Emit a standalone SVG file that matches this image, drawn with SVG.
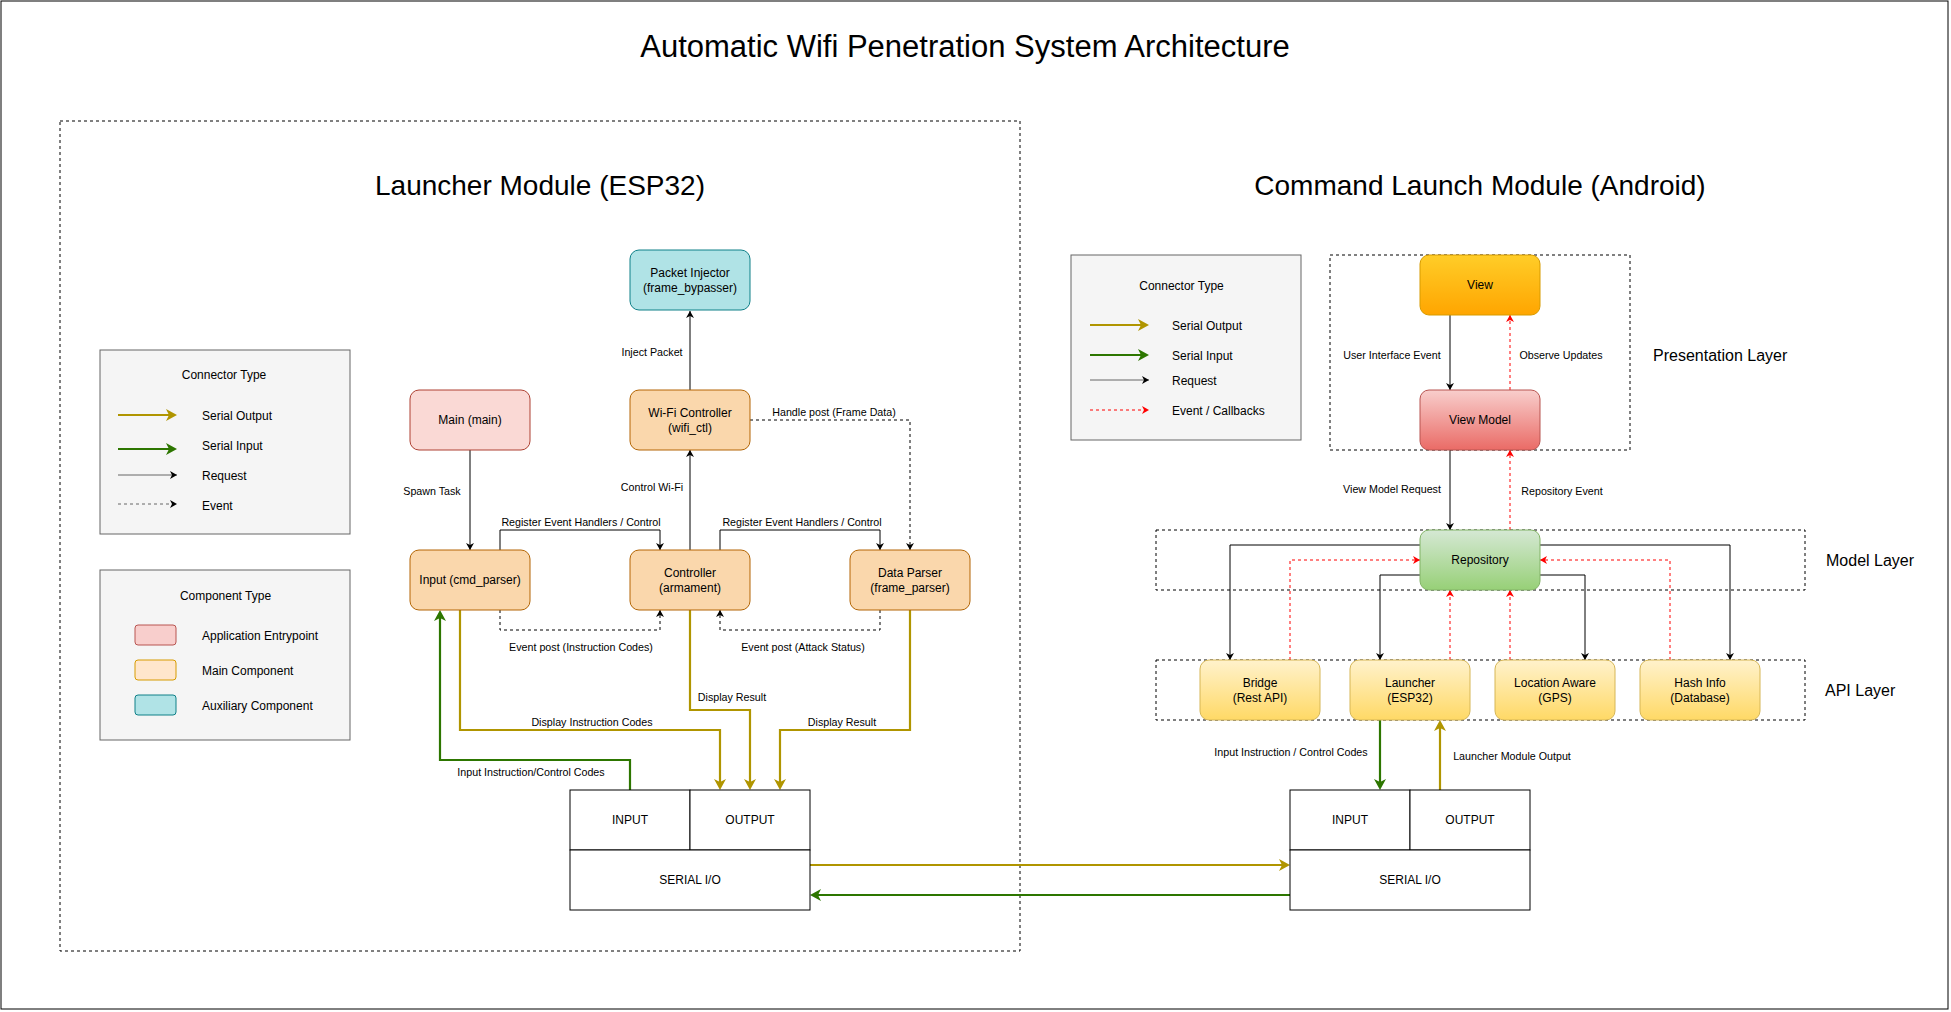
<svg xmlns="http://www.w3.org/2000/svg" width="1951" height="1012" viewBox="0 0 1951 1012">
<style>
text{font-family:"Liberation Sans",Arial,sans-serif;fill:#000;dominant-baseline:central}
.t12{font-size:12px;text-anchor:middle}
.lg{font-size:12px;text-anchor:start}
.el{font-size:10.7px;text-anchor:middle}
.lay{font-size:16px;text-anchor:start}
.cont{fill:none;stroke:#000;stroke-width:1;stroke-dasharray:3 3}
.leg{fill:#f5f5f5;stroke:#666666;stroke-width:1}
.req{fill:none;stroke:#000;stroke-width:1;marker-end:url(#ab)}
.evt{fill:none;stroke:#000;stroke-width:1;stroke-dasharray:3 3;marker-end:url(#ab)}
.red{fill:none;stroke:#FF0000;stroke-width:1;stroke-dasharray:3 3;marker-end:url(#ar)}
.gold{fill:none;stroke:#B09500;stroke-width:2.2;marker-end:url(#ag)}
.grn{fill:none;stroke:#2D7600;stroke-width:2.2;marker-end:url(#an)}
.box{fill:#fff;stroke:#000;stroke-width:1}
.pink{fill:#fad9d5;stroke:#ae4132;stroke-width:1}
.orng{fill:#fad7ac;stroke:#b46504;stroke-width:1}
.teal{fill:#b0e3e6;stroke:#0e8088;stroke-width:1}
</style>
<defs>
<marker id="ab" markerUnits="userSpaceOnUse" markerWidth="20" markerHeight="20" viewBox="-10 -10 20 20" refX="0" refY="0" orient="auto" overflow="visible"><path d="M0,0 L-7,-4 L-5,0 L-7,4 z" fill="#000"/></marker>
<marker id="ar" markerUnits="userSpaceOnUse" markerWidth="20" markerHeight="20" viewBox="-10 -10 20 20" refX="0" refY="0" orient="auto" overflow="visible"><path d="M0,0 L-7,-4 L-5,0 L-7,4 z" fill="#FF0000"/></marker>
<marker id="ag" markerUnits="userSpaceOnUse" markerWidth="20" markerHeight="20" viewBox="-10 -10 20 20" refX="0" refY="0" orient="auto" overflow="visible"><path d="M6,0 L-5,-6 L-2,0 L-5,6 z" fill="#B09500"/></marker>
<marker id="an" markerUnits="userSpaceOnUse" markerWidth="20" markerHeight="20" viewBox="-10 -10 20 20" refX="0" refY="0" orient="auto" overflow="visible"><path d="M6,0 L-5,-6 L-2,0 L-5,6 z" fill="#2D7600"/></marker>
<linearGradient id="gView" x1="0" y1="0" x2="0" y2="1"><stop offset="0" stop-color="#ffcd28"/><stop offset="1" stop-color="#ffa500"/></linearGradient>
<linearGradient id="gVM" x1="0" y1="0" x2="0" y2="1"><stop offset="0" stop-color="#f8cecc"/><stop offset="1" stop-color="#ea6b66"/></linearGradient>
<linearGradient id="gRepo" x1="0" y1="0" x2="0" y2="1"><stop offset="0" stop-color="#d5e8d4"/><stop offset="1" stop-color="#97d077"/></linearGradient>
<linearGradient id="gApi" x1="0" y1="0" x2="0" y2="1"><stop offset="0" stop-color="#fff2cc"/><stop offset="1" stop-color="#ffd966"/></linearGradient>
</defs>

<rect x="0" y="0" width="1951" height="1012" fill="#fff"/>
<rect x="1" y="1" width="1947" height="1008" fill="none" stroke="#000" stroke-width="1"/>
<text x="965" y="46" style="font-size:31px;text-anchor:middle">Automatic Wifi Penetration System Architecture</text>

<g id="launcher-module">
<rect class="cont" x="60" y="121" width="960" height="830"/>
<text x="540" y="185" style="font-size:28px;text-anchor:middle">Launcher Module (ESP32)</text>
</g>
<g id="command-module">
<text x="1480" y="185" style="font-size:28px;text-anchor:middle">Command Launch Module (Android)</text>
</g>
<g id="presentation-layer">
<rect class="cont" x="1330" y="255" width="300" height="195"/>
<text class="lay" x="1653" y="355">Presentation Layer</text>
</g>
<g id="model-layer">
<rect class="cont" x="1156" y="530" width="649" height="60"/>
<text class="lay" x="1826" y="560">Model Layer</text>
</g>
<g id="api-layer">
<rect class="cont" x="1156" y="660" width="649" height="60"/>
<text class="lay" x="1825" y="690">API Layer</text>
</g>

<g id="legend-connector-left">
<rect class="leg" x="100" y="350" width="250" height="184"/>
<text class="t12" x="224" y="375">Connector Type</text>
<path class="gold" d="M118,415 L171,415"/>
<text class="lg" x="202" y="415.5">Serial Output</text>
<path class="grn" d="M118,449 L171,449"/>
<text class="lg" x="202" y="445.5">Serial Input</text>
<path d="M118,475 L177,475" fill="none" stroke="#666" stroke-width="1" marker-end="url(#ab)"/>
<text class="lg" x="202" y="475.5">Request</text>
<path d="M118,504 L177,504" fill="none" stroke="#666" stroke-width="1" stroke-dasharray="3 3" marker-end="url(#ab)"/>
<text class="lg" x="202" y="505.5">Event</text>
</g>
<g id="legend-component">
<rect class="leg" x="100" y="570" width="250" height="170"/>
<text class="t12" x="225.5" y="595.5">Component Type</text>
<rect x="135" y="625" width="41" height="20" rx="3" fill="#f8cecc" stroke="#b85450"/>
<text class="lg" x="202" y="635.5">Application Entrypoint</text>
<rect x="135" y="660" width="41" height="20" rx="3" fill="#ffe6cc" stroke="#d79b00"/>
<text class="lg" x="202" y="670.5">Main Component</text>
<rect x="135" y="695" width="41" height="20" rx="3" fill="#b0e3e6" stroke="#0e8088"/>
<text class="lg" x="202" y="705.5">Auxiliary Component</text>
</g>
<g id="legend-connector-right">
<rect class="leg" x="1071" y="255" width="230" height="185"/>
<text class="t12" x="1181.5" y="286">Connector Type</text>
<path class="gold" d="M1090,325 L1143,325"/>
<text class="lg" x="1172" y="325.5">Serial Output</text>
<path class="grn" d="M1090,355 L1143,355"/>
<text class="lg" x="1172" y="355.5">Serial Input</text>
<path d="M1090,380 L1149,380" fill="none" stroke="#666" stroke-width="1" marker-end="url(#ab)"/>
<text class="lg" x="1172" y="380.5">Request</text>
<path class="red" d="M1090,410 L1149,410"/>
<text class="lg" x="1172" y="410.5">Event / Callbacks</text>
</g>

<g id="connectors">
<path class="req" d="M690,390 L690,311"/>
<path class="req" d="M690,550 L690,450"/>
<path class="req" d="M470,450 L470,550"/>
<path class="req" d="M500,550 L500,530 L660,530 L660,550"/>
<path class="req" d="M720,550 L720,530 L880,530 L880,550"/>
<path class="evt" d="M750,420 L910,420 L910,550"/>
<path class="evt" d="M500,610 L500,630 L660,630 L660,610"/>
<path class="evt" d="M880,610 L880,630 L720,630 L720,610"/>
<path class="gold" d="M460,610 L460,730 L720,730 L720,784"/>
<path class="gold" d="M690,610 L690,710 L750,710 L750,784"/>
<path class="gold" d="M910,610 L910,730 L780,730 L780,784"/>
<path class="gold" d="M810,865 L1284,865"/>
<path class="gold" d="M1440,790 L1440,726"/>
<path class="grn" d="M630,790 L630,760 L440,760 L440,616"/>
<path class="grn" d="M1290,895 L816,895"/>
<path class="grn" d="M1380,720 L1380,784"/>
<path class="req" d="M1450,315 L1450,390"/>
<path class="req" d="M1450,450 L1450,530"/>
<path class="req" d="M1420,545 L1230,545 L1230,660"/>
<path class="req" d="M1420,575 L1380,575 L1380,660"/>
<path class="req" d="M1540,575 L1585,575 L1585,660"/>
<path class="req" d="M1540,545 L1730,545 L1730,660"/>
<path class="red" d="M1510,390 L1510,315"/>
<path class="red" d="M1510,530 L1510,450"/>
<path class="red" d="M1290,660 L1290,560 L1420,560"/>
<path class="red" d="M1450,660 L1450,590"/>
<path class="red" d="M1510,660 L1510,590"/>
<path class="red" d="M1670,660 L1670,560 L1540,560"/>
<text class="el" x="652" y="352">Inject Packet</text>
<text class="el" x="652" y="487">Control Wi-Fi</text>
<text class="el" x="432" y="491">Spawn Task</text>
<text class="el" x="581" y="522">Register Event Handlers / Control</text>
<text class="el" x="802" y="522">Register Event Handlers / Control</text>
<text class="el" x="834" y="412">Handle post (Frame Data)</text>
<text class="el" x="581" y="647">Event post (Instruction Codes)</text>
<text class="el" x="803" y="647">Event post (Attack Status)</text>
<text class="el" x="732" y="697">Display Result</text>
<text class="el" x="592" y="722">Display Instruction Codes</text>
<text class="el" x="842" y="722">Display Result</text>
<text class="el" x="531" y="772">Input Instruction/Control Codes</text>
<text class="el" x="1392" y="355">User Interface Event</text>
<text class="el" x="1561" y="355">Observe Updates</text>
<text class="el" x="1392" y="489">View Model Request</text>
<text class="el" x="1562" y="491">Repository Event</text>
<text class="el" x="1291" y="752">Input Instruction / Control Codes</text>
<text class="el" x="1512" y="756">Launcher Module Output</text>
</g>

<g id="packet-injector"><rect class="teal" x="630" y="250" width="120" height="60" rx="9"/><text class="t12" x="690" y="272.5">Packet Injector</text><text class="t12" x="690" y="287.5">(frame_bypasser)</text></g>
<g id="wifi-controller"><rect class="orng" x="630" y="390" width="120" height="60" rx="9"/><text class="t12" x="690" y="412.5">Wi-Fi Controller</text><text class="t12" x="690" y="427.5">(wifi_ctl)</text></g>
<g id="main"><rect class="pink" x="410" y="390" width="120" height="60" rx="9"/><text class="t12" x="470" y="420">Main (main)</text></g>
<g id="input-cmd-parser"><rect class="orng" x="410" y="550" width="120" height="60" rx="9"/><text class="t12" x="470" y="580">Input (cmd_parser)</text></g>
<g id="controller"><rect class="orng" x="630" y="550" width="120" height="60" rx="9"/><text class="t12" x="690" y="572.5">Controller</text><text class="t12" x="690" y="587.5">(armament)</text></g>
<g id="data-parser"><rect class="orng" x="850" y="550" width="120" height="60" rx="9"/><text class="t12" x="910" y="572.5">Data Parser</text><text class="t12" x="910" y="587.5">(frame_parser)</text></g>
<g id="serial-io-left">
<rect class="box" x="570" y="790" width="120" height="60"/><text class="t12" x="630" y="820">INPUT</text>
<rect class="box" x="690" y="790" width="120" height="60"/><text class="t12" x="750" y="820">OUTPUT</text>
<rect class="box" x="570" y="850" width="240" height="60"/><text class="t12" x="690" y="880">SERIAL I/O</text>
</g>
<g id="serial-io-right">
<rect class="box" x="1290" y="790" width="120" height="60"/><text class="t12" x="1350" y="820">INPUT</text>
<rect class="box" x="1410" y="790" width="120" height="60"/><text class="t12" x="1470" y="820">OUTPUT</text>
<rect class="box" x="1290" y="850" width="240" height="60"/><text class="t12" x="1410" y="880">SERIAL I/O</text>
</g>
<g id="view"><rect x="1420" y="255" width="120" height="60" rx="9" fill="url(#gView)" stroke="#d79b00"/><text class="t12" x="1480" y="285">View</text></g>
<g id="view-model"><rect x="1420" y="390" width="120" height="60" rx="9" fill="url(#gVM)" stroke="#b85450"/><text class="t12" x="1480" y="420">View Model</text></g>
<g id="repository"><rect x="1420" y="530" width="120" height="60" rx="9" fill="url(#gRepo)" stroke="#82b366"/><text class="t12" x="1480" y="560">Repository</text></g>
<g id="bridge"><rect x="1200" y="660" width="120" height="60" rx="9" fill="url(#gApi)" stroke="#d6b656"/><text class="t12" x="1260" y="682.5">Bridge</text><text class="t12" x="1260" y="697.5">(Rest API)</text></g>
<g id="launcher"><rect x="1350" y="660" width="120" height="60" rx="9" fill="url(#gApi)" stroke="#d6b656"/><text class="t12" x="1410" y="682.5">Launcher</text><text class="t12" x="1410" y="697.5">(ESP32)</text></g>
<g id="location-aware"><rect x="1495" y="660" width="120" height="60" rx="9" fill="url(#gApi)" stroke="#d6b656"/><text class="t12" x="1555" y="682.5">Location Aware</text><text class="t12" x="1555" y="697.5">(GPS)</text></g>
<g id="hash-info"><rect x="1640" y="660" width="120" height="60" rx="9" fill="url(#gApi)" stroke="#d6b656"/><text class="t12" x="1700" y="682.5">Hash Info</text><text class="t12" x="1700" y="697.5">(Database)</text></g>
</svg>
